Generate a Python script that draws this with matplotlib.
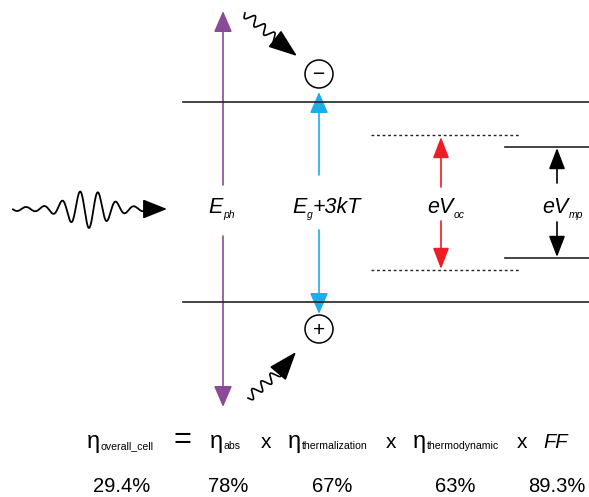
import numpy as np
import matplotlib.pyplot as plt
from matplotlib.patches import FancyArrowPatch, Circle

plt.rcParams['font.family'] = ['Liberation Sans', 'DejaVu Sans']

# Efficiency terms: (main symbol, subscript) and their values
term_main = ['η', 'η', 'η', 'η', 'FF']
term_sub = ['overall_cell', 'abs', 'thermalization', 'thermodynamic', '']
term_left = [87, 210, 288, 413, 543]
values = ['29.4%', '78%', '67%', '63%', '89.3%']
value_x = [122, 228, 332, 455, 557]
operators = ['=', 'x', 'x', 'x']
op_x = [182, 266, 391, 522]

# Energy labels: main, subscript, trailing text
energy_main = ['E', 'E', 'eV', 'eV']
energy_sub = ['ph', 'g', 'oc', 'mp']
energy_tail = ['', '+3kT', '', '']
energy_left = [208, 292, 427, 542]

purple = '#8b4a97'
blue = '#1aaeea'
red = '#ee1c24'
dark = '#222222'

fig = plt.figure(figsize=(5.89, 4.97), dpi=100)
ax = fig.add_axes([0, 0, 1, 1])
ax.set_xlim(0, 589)
ax.set_ylim(497, 0)
ax.axis('off')
renderer = fig.canvas.get_renderer()


def arrow(x0, y0, x1, y1, color, lw=1.2, hl=0.65, hw=0.28, ms=20):
    a = FancyArrowPatch((x0, y0), (x1, y1),
                        arrowstyle='-|>,head_length=%s,head_width=%s' % (hl, hw),
                        mutation_scale=ms, color=color, lw=lw, shrinkA=0, shrinkB=0)
    ax.add_patch(a)


def run_text(x, y, parts, style='normal'):
    # parts: list of (text, fontsize, baseline shift)
    for txt, size, dy in parts:
        if not txt:
            continue
        t = ax.text(x, y + dy, txt, fontsize=size, style=style, ha='left', va='baseline')
        x += t.get_window_extent(renderer).width + 0.5


# band edges and quasi-Fermi levels
ax.plot([183, 589], [102, 102], color=dark, lw=1.2)
ax.plot([183, 589], [302, 302], color=dark, lw=1.2)
ax.plot([371, 521], [135, 135], color=dark, lw=1.0, ls=(0, (2, 2)))
ax.plot([371, 521], [270, 270], color=dark, lw=1.0, ls=(0, (2, 2)))
ax.plot([505, 589], [147, 147], color=dark, lw=1.2)
ax.plot([505, 589], [258, 258], color=dark, lw=1.2)

# vertical energy arrows
arrow(223, 185, 223, 11, purple)
arrow(223, 236, 223, 407, purple)
arrow(319, 175, 319, 92, blue)
arrow(319, 230, 319, 314, blue)
arrow(441, 187, 441, 137, red, hw=0.25)
arrow(441, 221, 441, 269, red, hw=0.25)
arrow(557, 183, 557, 148, 'black', hw=0.25)
arrow(557, 222, 557, 257, 'black', hw=0.25)

for m, s, tl, x in zip(energy_main, energy_sub, energy_tail, energy_left):
    run_text(x, 213, [(m, 15.5, 0), (s, 7.5, 5), (tl, 15.5, 0)], style='italic')

# electron and hole
for cy, sign in [(74, '−'), (329, '+')]:
    ax.add_patch(Circle((319, cy), 14, fill=False, ec='black', lw=1.1))
    ax.text(319, cy + 1, sign, fontsize=15, ha='center', va='center')

# incoming photon wave packet
t = np.linspace(13, 150, 700)
env = 2 + 17 * np.exp(-((t - 88) / 26) ** 2)
ax.plot(t, 209 + env * np.sin((t - 89 + 4.5) * 2 * np.pi / 18.0), color='black', lw=1.3)
arrow(146, 209, 167, 209, 'black', hl=0.75, hw=0.3, ms=20)


# small photons hitting the carriers
def wiggle(x0, y0, x1, y1, tip):
    s = np.linspace(0, 1, 200)
    dx, dy = x1 - x0, y1 - y0
    L = np.hypot(dx, dy)
    nx, ny = -dy / L, dx / L
    w = 4.5 * np.sin(s * 2 * np.pi * 3.5)
    ax.plot(x0 + dx * s + nx * w, y0 + dy * s + ny * w, color='black', lw=1.2)
    arrow(x1, y1, tip[0], tip[1], 'black', hl=0.9, hw=0.33, ms=20)


wiggle(245, 13, 279, 42, (297, 56))
wiggle(248, 398, 280, 371, (296, 352))

# efficiency equation
for m, s, x in zip(term_main, term_sub, term_left):
    if m == 'FF':
        run_text(x, 448, [(m, 14.5, 0)], style='italic')
    else:
        run_text(x, 448, [(m, 17, 0), (s, 7.6, 1)])
for op, x in zip(operators, op_x):
    if op == '=':
        ax.text(x, 448, op, fontsize=22, ha='center', va='baseline')
    else:
        ax.text(x, 448, op, fontsize=15, ha='center', va='baseline')
for v, x in zip(values, value_x):
    ax.text(x, 487, v, fontsize=14.5, ha='center', va='center')

fig.savefig('out.png', dpi=100)
